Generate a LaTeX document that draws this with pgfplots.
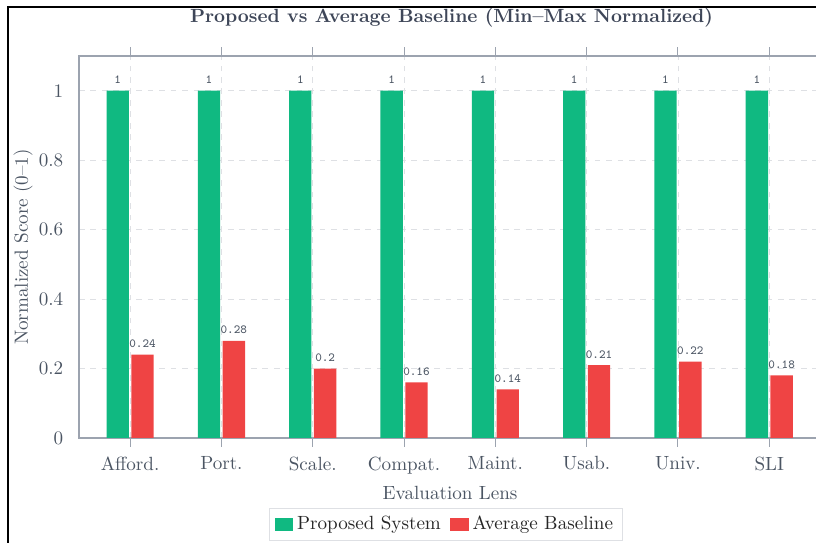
\documentclass[border=0pt]{standalone}
\usepackage{pgfplots}
\pgfplotsset{compat=1.18}

\definecolor{propgreen}{RGB}{16,185,129}
\definecolor{basered}{RGB}{239,68,68}
\definecolor{labelgray}{RGB}{75,85,99}
\definecolor{titlegray}{RGB}{62,70,88}
\definecolor{axisgray}{RGB}{156,163,175}
\definecolor{gridgray}{RGB}{222,224,228}

% normalized scores per evaluation lens (0 = Afford. ... 7 = SLI)
\pgfplotstableread{
x score
0 1
1 1
2 1
3 1
4 1
5 1
6 1
7 1
}\proposed
\pgfplotstableread{
x score
0 0.24
1 0.28
2 0.20
3 0.16
4 0.14
5 0.21
6 0.22
7 0.18
}\baseline

\begin{document}
\begin{tikzpicture}
\useasboundingbox (0,0) rectangle (427.26pt,284.31pt);
\begin{scope}
\clip (0,0) rectangle (427.26pt,284.31pt);
\begin{axis}[
  name=main,
  at={(41.36pt,54.98pt)}, anchor=south west,
  scale only axis, width=390.1pt, height=200pt,
  ybar=1.3pt, bar width=11.7pt,
  xmin=-0.56, xmax=7.6, ymin=0, ymax=1.1,
  xtick={0,...,7},
  xticklabels={Afford.,Port.,Scale.,Compat.,Maint.,Usab.,Univ.,SLI},
  ytick={0,0.2,0.4,0.6,0.8,1},
  yticklabels={0,0.2,0.4,0.6,0.8,1},
  xtick pos=both,
  tick align=outside,
  major tick length=4.7pt,
  xtick style={draw=axisgray, line width=0.5pt},
  ytick style={draw=none},
  axis line style={draw=axisgray, line width=0.8pt},
  xmajorgrids, ymajorgrids,
  grid style={gridgray, line width=0.45pt, dash pattern=on 3pt off 3pt},
  tick label style={text=labelgray, font=\normalsize},
  xticklabel style={yshift=-1.5pt},
  /pgf/number format/assume math mode=true,
  xlabel={Evaluation Lens},
  xlabel style={at={(axis description cs:0.498,-0.1623)}, anchor=base, text=labelgray},
  ylabel={Normalized Score (0--1)},
  ylabel style={at={(axis description cs:-0.0685,0.5)}, anchor=base, text=labelgray},
  nodes near coords,
  nodes near coords style={font=\fontsize{6.5}{7}\selectfont\ttfamily, text=labelgray},
  legend style={at={(axis description cs:0.4925,-0.1832)}, anchor=north,
    legend columns=2, draw=gridgray, font=\normalsize, text=black!85,
    /tikz/every even column/.append style={column sep=3pt}},
  legend image code/.code={\fill[#1] (0pt,-3.3pt) rectangle (9.6pt,3.3pt);},
]
\addplot[fill=propgreen, draw=none] table[x=x, y=score] {\proposed};
\addplot[fill=basered, draw=none] table[x=x, y=score] {\baseline};
\legend{Proposed System, Average Baseline}
\end{axis}
\end{scope}
% chart title, centred over the plot area
\node[anchor=base, text=titlegray, font=\bfseries] at ([yshift=17.3pt]main.north)
  {Proposed vs Average Baseline (Min--Max Normalized)};
\draw[black, line width=1.1pt] (4.19pt,-2pt) -- (4.19pt,280.6pt) -- (440pt,280.6pt);
\end{tikzpicture}
\end{document}
